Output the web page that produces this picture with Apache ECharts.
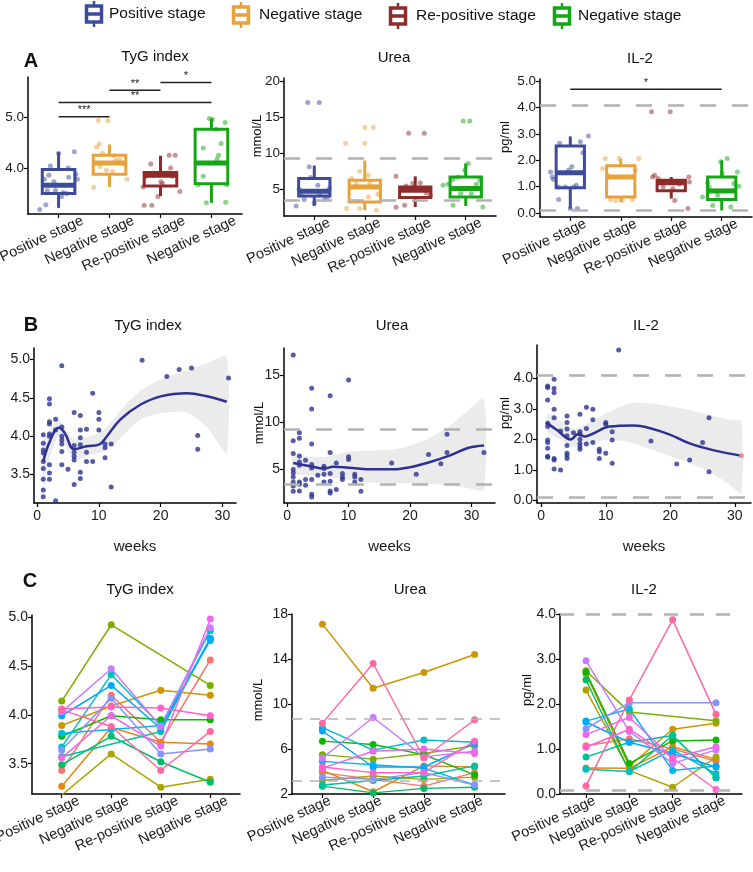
<!DOCTYPE html>
<html>
<head>
<meta charset="utf-8">
<script src="https://cdn.jsdelivr.net/npm/echarts@6/dist/echarts.min.js"></script>
<style>
  html, body { margin: 0; padding: 0; background: #fff; }
  #chart { width: 753px; height: 872px; }
</style>
</head>
<body>
<div id="chart"></div>
<script>
const FONT = '"Liberation Sans", Arial, sans-serif';

// ---- shared ----
const stages = ['Positive stage', 'Negative stage', 'Re-positive stage', 'Negative stage'];
const stageColors = ['#3C4C9B', '#E8A23B', '#8E2B2B', '#16A516'];

// ---- row A: boxplots [min, q1, median, q3, max] ----
const tygBox = [[3.22, 3.50, 3.66, 3.97, 4.31], [3.63, 3.88, 4.10, 4.25, 4.46], [3.45, 3.65, 3.86, 3.91, 4.24], [3.32, 3.69, 4.10, 4.76, 4.97]];
const ureaBox = [[2.67, 4.07, 4.72, 6.50, 8.30], [2.06, 3.22, 5.32, 6.26, 9.00], [2.52, 3.84, 4.86, 5.32, 6.80], [2.67, 3.92, 5.10, 6.72, 8.60]];
const il2Box = [[0.17, 0.96, 1.53, 2.55, 2.91], [0.42, 0.61, 1.37, 1.80, 2.06], [0.55, 0.85, 1.15, 1.25, 1.37], [0.10, 0.51, 0.84, 1.37, 2.00]];

// jittered points: [stage, offset, value]
const tygJitter = [
  [0,-0.37,3.19],[0,-0.25,3.28],[0,-0.28,3.78],[0,-0.19,3.86],[0,-0.16,4.04],[0,-0.09,3.73],[0,-0.06,3.56],[0,0,4.29],[0,0.06,3.44],
  [0,0.09,3.52],[0,0.19,4.0],[0,0.2,3.82],[0,0.31,4.32],[0,0.34,3.88],[0,0.37,3.78],[0,-0.22,3.56],[0,0.16,3.5],
  [1,-0.22,4.93],[1,-0.03,4.93],[1,-0.25,4.41],[1,-0.2,4.47],[1,-0.19,4.03],[1,-0.14,4.29],[1,-0.31,3.62],[1,0.09,4.24],
  [1,0.19,4.16],[1,0.28,4.08],[1,0.34,3.78],[1,-0.06,3.96],[1,0.06,3.93],[1,0.12,4.14],
  [2,-0.34,3.63],[2,-0.32,3.27],[2,-0.17,3.27],[2,-0.19,4.08],[2,-0.14,3.86],[2,-0.05,3.44],[2,0.01,3.73],[2,0.04,3.69],
  [2,0.14,3.9],[2,0.17,4.25],[2,0.2,4.0],[2,0.23,3.84],[2,0.29,4.25],[2,0.38,3.54],[2,-0.28,3.84],
  [3,-0.1,3.32],[3,-0.16,3.84],[3,-0.16,4.39],[3,-0.04,4.97],[3,0.02,4.95],[3,0.09,4.76],[3,0.11,4.17],[3,0.14,4.25],
  [3,0.19,4.48],[3,0.27,4.89],[3,0.3,3.67],[3,0.28,3.33],[3,-0.26,3.67]
];
const ureaJitter = [
  [0,-0.13,17.1],[0,0.1,17.1],[0,-0.36,2.67],[0,-0.3,5.0],[0,-0.2,3.56],[0,-0.1,8.12],[0,-0.07,6.63],[0,0,3.08],
  [0,0.07,5.56],[0,0.1,4.16],[0,0.2,3.56],[0,0.3,5.1],[0,-0.26,4.16],[0,0.26,3.9],
  [1,0,13.6],[1,0.17,13.6],[1,-0.38,11.4],[1,0,11.4],[1,-0.1,7.52],[1,-0.26,6.49],[1,-0.17,5.88],[1,0.07,6.96],
  [1,0.1,5.81],[1,0.2,5.32],[1,-0.36,2.3],[1,-0.1,2.3],[1,0.23,2.06],[1,0.07,3.92],[1,0.26,4.3],
  [2,-0.38,6.82],[2,-0.21,2.76],[2,0.1,5.88],[2,0.15,5.1],[2,0.22,4.48],[2,-0.05,5.8],[2,-0.18,5.46],[2,-0.13,12.8],
  [2,0.18,12.8],[2,-0.38,2.5],[2,0.3,4.2],[2,0.02,5.0],
  [3,-0.05,14.5],[3,0.08,14.5],[3,-0.45,5.56],[3,-0.35,5.7],[3,-0.25,6.35],[3,-0.15,6.72],[3,0.11,4.4],[3,0.21,5.7],
  [3,0.28,6.26],[3,0.34,2.53],[3,-0.25,2.76],[3,-0.02,7.66],[3,0.05,8.6],[3,-0.1,4.4]
];
const il2Jitter = [
  [0,-0.39,1.56],[0,-0.36,1.37],[0,-0.33,1.27],[0,-0.23,0.51],[0,-0.23,0.99],[0,-0.1,0.99],[0,-0.03,1.63],[0,0,0.17],
  [0,0.07,0.99],[0,0.12,1.06],[0,0.14,0.17],[0,0.2,2.71],[0,0.25,2.29],[0,0.36,2.93],[0,-0.21,2.65],[0,0.03,1.76],
  [1,-0.36,1.69],[1,-0.31,2.07],[1,-0.26,1.44],[1,-0.2,0.51],[1,-0.1,0.48],[1,0.03,0.48],[1,0.23,0.51],[1,0.29,1.63],
  [1,0.36,2.07],[1,-0.03,2.07],
  [2,-0.39,3.85],[2,-0.02,3.85],[2,-0.37,1.37],[2,-0.33,1.44],[2,-0.26,1.31],[2,0.03,0.93],[2,0.07,0.48],[2,0.16,1.1],
  [2,0.35,1.37],[2,0.33,0.17],[2,0.36,1.18],[2,-0.16,0.99],
  [3,-0.28,1.15],[3,-0.25,0.99],[3,-0.18,0.29],[3,-0.08,0.68],[3,-0.02,1.95],[3,0.01,1.5],[3,0.11,2.07],[3,0.18,0.23],
  [3,0.24,1.12],[3,0.34,1.02],[3,0.31,1.56],[3,-0.38,0.61]
];

// significance brackets: [from stage, to stage, height, label]
const tygSig = [[1, 2, 5.0, '***'], [1, 4, 5.28, '**'], [2, 3, 5.52, '**'], [3, 4, 5.67, '*']];
const il2Sig = [[1, 4, 4.7, '*']];

// reference ranges
const ureaRef = [3.4, 9.3];
const il2Ref = [0.1, 4.1];
const ureaRefC = [3.2, 8.67];
const il2RefC = [0.08, 4.0];

// ---- row B: values by week ----
const tygWeekPts = [
  [1,4.02],[1,3.91],[1,3.82],[1,3.78],[1,3.67],[1,3.58],[1,3.44],[1,3.30],[1,3.21],
  [2,4.49],[2,4.42],[2,4.19],[2,4.16],[2,4.03],[2,4.0],[2,3.63],[2,3.52],[2,3.44],
  [3,4.22],[3,4.08],[3,3.16],
  [4,4.92],[4,4.12],[4,4.0],[4,3.95],[4,3.90],[4,3.80],[4,3.63],
  [5,3.57],
  [6,4.31],[6,3.88],[6,3.79],[6,3.74],[6,3.69],[6,3.37],
  [7,4.27],[7,4.08],[7,3.98],[7,3.89],[7,3.53],[7,3.45],
  [8,4.09],[8,3.79],[8,3.67],
  [9,4.56],[9,3.67],
  [10,4.31],[10,4.22],[10,4.08],
  [11,3.90],[11,3.85],[11,3.72],
  [12,3.90],[12,3.34],
  [17,4.99],[21,4.78],[23,4.87],[25,4.89],[26,4.01],[26,3.83],[31,4.76]
];
const tygFit = [[1,3.67],[2,3.92],[3.5,4.11],[4.5,4.04],[6,3.83],[8,3.87],[10,3.89],[11.3,4.0],[13.5,4.22],[16.7,4.41],[20,4.52],[24.3,4.56],[27.5,4.52],[30.7,4.45]];
const tygBandWeeks = [1, 2, 3.5, 6, 8, 10, 12, 14, 16.7, 20, 24.3, 27.5, 30.7];
const tygBandLow = [3.39, 3.70, 4.0, 3.69, 3.74, 3.78, 3.86, 4.02, 4.22, 4.30, 4.31, 4.12, 3.78];
const tygBandHigh = [3.95, 4.08, 4.22, 3.95, 3.99, 4.04, 4.18, 4.38, 4.59, 4.74, 4.86, 4.95, 5.04];

const ureaWeekPts = [
  [1,17.1],[1,8.03],[1,6.7],[1,5.0],[1,4.64],[1,4.22],[1,3.69],[1,3.26],[1,2.7],
  [2,8.88],[2,8.3],[2,6.44],[2,5.8],[2,5.46],[2,3.69],[2,3.44],[2,2.73],
  [3,5.99],[3,3.94],[3,3.33],
  [4,13.6],[4,11.4],[4,7.7],[4,5.53],[4,5.17],[4,3.94],[4,2.38],[4,2.1],
  [5,4.4],
  [6,5.35],[6,5.1],[6,4.5],[6,3.69],
  [7,12.8],[7,6.8],[7,4.58],[7,3.76],[7,2.73],[7,2.52],
  [8,5.7],[8,2.88],
  [9,4.58],[9,4.22],[9,3.94],
  [10,14.47],[10,6.34],[10,6.06],
  [11,4.5],[11,4.22],[11,3.69],
  [12,3.94],[12,2.7],
  [17,5.7],[21,4.5],[23,6.6],[25,5.6],[26,8.74],[26,6.8],[32,6.8]
];
const ureaFit = [[1,5.7],[3.8,5.35],[6,5.1],[7.5,5.3],[10,5.2],[14,5.02],[17,5.02],[20,5.25],[23,5.75],[26.5,6.5],[29.5,7.3],[32,7.55]];
const ureaBandWeeks = [1, 4, 7, 10, 14, 18, 22, 26, 29, 32];
const ureaBandLow = [4.6, 4.4, 4.2, 3.9, 3.6, 3.55, 3.5, 3.35, 3.1, 2.85];
const ureaBandHigh = [6.7, 6.3, 6.4, 6.9, 7.0, 7.2, 8.0, 9.4, 11.0, 12.5];

const il2WeekPts = [
  [1,3.75],[1,3.7],[1,3.29],[1,2.53],[1,2.42],[1,1.98],[1,1.9],[1,1.71],[1,1.45],[1,1.42],
  [2,3.97],[2,3.67],[2,3.53],[2,2.99],[2,2.71],[2,1.38],[2,1.33],[2,1.03],
  [3,2.28],[3,1.0],
  [4,2.77],[4,2.55],[4,2.34],[4,2.12],[4,1.8],[4,1.55],[4,1.47],[4,1.38],
  [5,2.22],
  [6,2.82],[6,2.25],[6,2.18],[6,2.01],[6,1.87],[6,1.77],[6,1.68],
  [7,3.05],[7,2.36],[7,1.85],
  [8,2.99],[8,2.64],[8,1.9],
  [9,1.68],[9,1.6],[9,1.38],
  [10,2.55],[10,2.5],[10,1.55],
  [11,2.25],[11,1.98],[11,1.22],
  [12,4.93],[17,1.95],[21,1.2],[23,1.33],[25,1.9],[26,2.71],[26,0.94]
];
const il2LastPt = [[31, 1.47]];
const il2Fit = [[0.8,2.55],[2.5,2.3],[4.6,2.0],[5.7,2.17],[6.8,2.1],[7.8,2.17],[10.6,2.42],[14.2,2.46],[19.4,2.2],[23,1.87],[26.6,1.65],[30.9,1.47]];
const il2BandWeeks = [1, 3, 5, 7, 10, 14, 18, 22, 26, 29, 31];
const il2BandLow = [2.25, 2.0, 1.75, 1.85, 2.0, 1.9, 1.6, 1.3, 0.95, 0.55, 0.25];
const il2BandHigh = [2.85, 2.6, 2.35, 2.5, 2.85, 3.2, 3.15, 3.0, 2.8, 2.65, 2.6];

// ---- row C: per-patient values at each stage (null = missing) ----
const patientColors = ['#F8766D','#E68613','#CD9600','#ABA300','#7CAE00','#0CB702','#00BE67','#00C19A',
                       '#00BFC4','#00B8E7','#00A9FF','#8494FF','#C77CFF','#ED68ED','#FF61CC','#FF68A1'];
const tygPatients = [
  [3.43, 4.20, 3.72, 4.56], [3.27, 3.87, 3.72, 3.70], [3.89, 4.09, 4.25, 4.20], [3.18, 3.60, 3.26, 3.34],
  [4.14, 4.92, null, 4.30], [3.78, 3.99, 3.95, 3.95], [3.49, 3.78, 3.52, 3.31], [3.57, null, 3.83, 4.78],
  [3.67, 4.41, 3.89, 4.86], [3.81, 3.85, 3.89, 4.76], [3.99, 4.30, 3.86, 4.78], [3.64, 4.17, 3.60, 3.65],
  [4.03, 4.47, 3.88, 4.89], [3.56, 3.99, 3.68, 4.98], [4.06, 4.08, 4.07, 3.99], [4.05, 3.88, 3.43, 3.83]
];
const ureaPatients = [
  [3.9, 3.3, 2.7, 3.9], [4.1, 2.2, 4.5, 4.4], [17.1, 11.4, 12.8, 14.4], [3.2, 3.6, 3.3, 3.5],
  [5.5, 5.1, 5.6, 6.3], [6.7, 6.4, 5.5, 3.7], [2.7, 2.1, 2.5, 2.6], [2.8, 3.2, 3.6, 4.5],
  [7.9, 5.9, 6.8, 6.6], [4.9, 4.6, 4.3, 2.8], [7.6, 4.4, 4.4, 6.5], [3.5, 3.3, 3.9, 2.8],
  [5.2, 8.8, 5.3, 5.8], [4.3, 5.8, 6.0, 5.6], [4.4, 3.9, 3.9, 6.7], [8.3, 13.6, 5.2, 8.6]
];
const il2Patients = [
  [1.07, 1.23, 1.0, 0.73], [0.58, 0.57, 1.05, 0.77], [2.67, 0.62, 1.44, 1.57], [2.31, 0.52, 0.15, 0.82],
  [2.74, 1.82, null, 1.63], [2.71, 0.68, 1.18, 1.2], [2.54, 0.5, 1.3, 0.36], [0.82, 1.15, 1.3, 0.36],
  [0.55, 0.5, 0.98, 0.45], [1.62, 1.89, 0.52, 0.62], [1.6, 1.15, 0.9, 0.6], [1.45, 2.03, null, 2.03],
  [2.96, 1.39, 0.68, 0.98], [1.32, 1.70, 0.8, 1.05], [1.04, 1.44, 0.8, 0.1], [0.18, 2.09, 3.87, 1.77]
];

// ---------------- helpers ----------------
const axisLine = { show: true, onZero: false, lineStyle: { color: '#000', width: 1.5 } };

function grid(left, top, width, height) {
  return { left, top, width, height, containLabel: false, outerBoundsMode: 'none' };
}

// shift: rotated stage labels sit a little right of their tick
function stageAxis(gi, shift) {
  return {
    type: 'value', gridIndex: gi, min: 0.4, max: 4.6,
    axisLine: axisLine,
    axisTick: { show: true, length: 4, customValues: [1, 2, 3, 4], lineStyle: { color: '#000', width: 1.2 } },
    axisLabel: {
      customValues: [1, 2, 3, 4].map(v => v + shift), rotate: 25, margin: 6, fontSize: 14.5,
      color: '#1a1a1a', fontFamily: FONT, showMaxLabel: true, showMinLabel: true,
      formatter: v => stages[Math.floor(v) - 1]
    },
    splitLine: { show: false }
  };
}

function weekAxis(gi, min, max) {
  return {
    type: 'value', gridIndex: gi, min, max,
    name: 'weeks', nameLocation: 'middle', nameGap: 36,
    nameTextStyle: { fontSize: 15, color: '#1a1a1a', fontFamily: FONT },
    axisLine: axisLine,
    axisTick: { show: true, length: 4, customValues: [0, 10, 20, 30], lineStyle: { color: '#000', width: 1.2 } },
    axisLabel: { customValues: [0, 10, 20, 30], margin: 6, fontSize: 14, color: '#1a1a1a', fontFamily: FONT },
    splitLine: { show: false }
  };
}

function valueAxis(gi, min, max, ticks, digits, size) {
  return {
    type: 'value', gridIndex: gi, min, max,
    axisLine: axisLine,
    axisTick: { show: true, length: 4, customValues: ticks, lineStyle: { color: '#000', width: 1.2 } },
    axisLabel: { customValues: ticks, margin: 4, fontSize: size, color: '#1a1a1a', fontFamily: FONT,
                 formatter: v => v.toFixed(digits) },
    splitLine: { show: false }
  };
}

function refLines(values, width, dash) {
  return {
    silent: true, symbol: 'none', animation: false,
    label: { show: false },
    lineStyle: { type: dash, color: '#B3B3B3', width: width },
    data: values.map(v => ({ yAxis: v }))
  };
}

function boxSeries(ai, boxes, frac) {
  return {
    type: 'custom', xAxisIndex: ai, yAxisIndex: ai, z: 2,
    data: boxes.map((b, i) => [i + 1].concat(b)),
    encode: { x: 0, y: [1, 2, 3, 4, 5] },
    renderItem: (params, api) => {
      const x = api.value(0);
      const p = [1, 2, 3, 4, 5].map(d => api.coord([x, api.value(d)]));
      const w = api.size([1, 0])[0] * frac;
      const c = stageColors[params.dataIndex];
      const cx = p[0][0];
      return {
        type: 'group', children: [
          { type: 'line', shape: { x1: cx, y1: p[0][1], x2: cx, y2: p[1][1] }, style: { stroke: c, lineWidth: 3 } },
          { type: 'line', shape: { x1: cx, y1: p[3][1], x2: cx, y2: p[4][1] }, style: { stroke: c, lineWidth: 3 } },
          { type: 'rect', shape: { x: cx - w / 2, y: p[3][1], width: w, height: p[1][1] - p[3][1] },
            style: { fill: '#fff', stroke: c, lineWidth: 3 } },
          { type: 'line', shape: { x1: cx - w / 2, y1: p[2][1], x2: cx + w / 2, y2: p[2][1] },
            style: { stroke: c, lineWidth: 5 } }
        ]
      };
    }
  };
}

function jitterSeries(ai, pts, refs) {
  const s = {
    type: 'scatter', xAxisIndex: ai, yAxisIndex: ai, z: 3, symbolSize: 5,
    data: pts.map(p => ({ value: [p[0] + 1 + p[1], p[2]], itemStyle: { color: stageColors[p[0]], opacity: 0.5 } }))
  };
  if (refs) s.markLine = refLines(refs, 2.5, [16, 16]);
  return s;
}

function sigSeries(ai, sig) {
  return {
    type: 'custom', xAxisIndex: ai, yAxisIndex: ai, z: 4,
    data: sig.map(s => [s[0], s[1], s[2]]),
    encode: { x: [0, 1], y: 2 },
    renderItem: (params, api) => {
      const a = api.coord([api.value(0), api.value(2)]);
      const b = api.coord([api.value(1), api.value(2)]);
      return {
        type: 'group', children: [
          { type: 'line', shape: { x1: a[0], y1: a[1], x2: b[0], y2: b[1] }, style: { stroke: '#222', lineWidth: 1.5 } },
          { type: 'text', x: (a[0] + b[0]) / 2, y: a[1] - 1,
            style: { text: sig[params.dataIndex][3], fill: '#222', font: '11px ' + FONT,
                     align: 'center', textAlign: 'center', verticalAlign: 'bottom', textVerticalAlign: 'bottom' } }
        ]
      };
    }
  };
}

function bandSeries(ai, weeks, low, high) {
  return {
    type: 'custom', xAxisIndex: ai, yAxisIndex: ai, z: 1, silent: true,
    data: weeks.map((w, i) => [w, low[i], high[i]]),
    encode: { x: 0, y: [1, 2] },
    renderItem: (params, api) => {
      if (params.dataIndex !== 0) return null;
      const top = weeks.map((w, i) => api.coord([w, high[i]]));
      const bot = weeks.map((w, i) => api.coord([w, low[i]])).reverse();
      return { type: 'polygon', shape: { points: top.concat(bot), smooth: 0.2 }, style: { fill: '#EBEBEB' } };
    }
  };
}

function weekScatter(ai, pts, refs) {
  const s = { type: 'scatter', xAxisIndex: ai, yAxisIndex: ai, z: 3, symbolSize: 5,
              itemStyle: { color: '#2C3590' }, data: pts };
  if (refs) s.markLine = refLines(refs, 2.5, [16, 16]);
  return s;
}

function fitSeries(ai, fit) {
  return { type: 'line', xAxisIndex: ai, yAxisIndex: ai, z: 5, smooth: 0.4, symbol: 'none',
           lineStyle: { color: '#2E3192', width: 2.5 }, data: fit };
}

function patientSeries(ai, patients, refs, refWidth, refDash) {
  return patients.map((row, k) => {
    const s = {
      type: 'line', xAxisIndex: ai, yAxisIndex: ai, z: 3, connectNulls: true,
      symbol: 'circle', symbolSize: 7,
      lineStyle: { color: patientColors[k], width: 1.5 },
      itemStyle: { color: patientColors[k] },
      data: row.map((v, j) => [j + 1, v == null ? '-' : v])
    };
    if (k === 0 && refs) s.markLine = refLines(refs, refWidth, refDash);
    return s;
  });
}

// ---------------- text decorations ----------------
const graphic = [];
function addText(text, x, y, font, rotation) {
  graphic.push({ type: 'text', x, y, rotation: rotation || 0,
    style: { text, font, fill: '#111', align: 'center', textAlign: 'center', verticalAlign: 'middle', textVerticalAlign: 'middle' } });
}
[['TyG index', 155, 57], ['Urea', 394, 58], ['IL-2', 640, 59],
 ['TyG index', 148, 326], ['Urea', 392, 326], ['IL-2', 646, 326],
 ['TyG index', 140, 590], ['Urea', 410, 590], ['IL-2', 644, 590]]
  .forEach(t => addText(t[0], t[1], t[2], '15px ' + FONT));
[['A', 31, 61], ['B', 31, 325], ['C', 30, 581]]
  .forEach(t => addText(t[0], t[1], t[2], 'bold 20px ' + FONT));
[['mmol/L', 257, 136], ['pg/ml', 505, 137], ['mmol/L', 259, 423], ['pg/ml', 505, 413], ['mmol/L', 258, 700], ['pg/ml', 527, 690]]
  .forEach(t => addText(t[0], t[1], t[2], '13px ' + FONT, Math.PI / 2));

// legend
[[94, 14, 109], [241, 15, 259], [398, 16, 416], [562, 16, 578]].forEach((pos, i) => {
  const [ix, iy, tx] = pos;
  const c = stageColors[i];
  graphic.push({ type: 'line', shape: { x1: ix, y1: iy - 13, x2: ix, y2: iy + 13 }, style: { stroke: c, lineWidth: 2.5 } });
  graphic.push({ type: 'rect', shape: { x: ix - 7.5, y: iy - 8, width: 15, height: 16 }, style: { fill: '#fff', stroke: c, lineWidth: 3.5 } });
  graphic.push({ type: 'line', shape: { x1: ix - 7.5, y1: iy, x2: ix + 7.5, y2: iy }, style: { stroke: c, lineWidth: 3.5 } });
  graphic.push({ type: 'text', x: tx, y: iy,
    style: { text: stages[i], font: '15.5px ' + FONT, fill: '#111', align: 'left', textAlign: 'left', verticalAlign: 'middle', textVerticalAlign: 'middle' } });
});

// ---------------- chart ----------------
const chart = echarts.init(document.getElementById('chart'), null, { renderer: 'canvas' });

const series = [
  boxSeries(0, tygBox, 0.64), jitterSeries(0, tygJitter), sigSeries(0, tygSig),
  boxSeries(1, ureaBox, 0.62), jitterSeries(1, ureaJitter, ureaRef),
  boxSeries(2, il2Box, 0.56), jitterSeries(2, il2Jitter, il2Ref), sigSeries(2, il2Sig),
  bandSeries(3, tygBandWeeks, tygBandLow, tygBandHigh), weekScatter(3, tygWeekPts), fitSeries(3, tygFit),
  bandSeries(4, ureaBandWeeks, ureaBandLow, ureaBandHigh), weekScatter(4, ureaWeekPts, ureaRef), fitSeries(4, ureaFit),
  bandSeries(5, il2BandWeeks, il2BandLow, il2BandHigh), weekScatter(5, il2WeekPts, il2Ref), fitSeries(5, il2Fit),
  { type: 'scatter', xAxisIndex: 5, yAxisIndex: 5, z: 6, symbolSize: 5, itemStyle: { color: '#F8766D' }, data: il2LastPt }
].concat(
  patientSeries(6, tygPatients),
  patientSeries(7, ureaPatients, ureaRefC, 1.5, [10, 8]),
  patientSeries(8, il2Patients, il2RefC, 2.5, [14, 12])
);

chart.setOption({
  animation: false,
  backgroundColor: '#fff',
  textStyle: { fontFamily: FONT },
  grid: [
    grid(28, 77, 214, 137), grid(284, 78, 212, 138), grid(540, 79, 212, 138),
    grid(34, 348, 202, 155), grid(284, 348, 211, 155), grid(537, 345, 214, 158),
    grid(32, 615, 208, 179), grid(292, 614, 213, 180), grid(560, 614, 182, 180)
  ],
  xAxis: [
    stageAxis(0, 0.47), stageAxis(1, 0.3), stageAxis(2, 0.3),
    weekAxis(3, -0.5, 32.2), weekAxis(4, -0.5, 33.8), weekAxis(5, -0.65, 32.5),
    stageAxis(6, 0.34), stageAxis(7, 0.15), stageAxis(8, 0.2)
  ],
  yAxis: [
    valueAxis(0, 3.1, 5.78, [4, 5], 1, 13.5),
    valueAxis(1, 1.27, 20.5, [5, 10, 15, 20], 0, 13.5),
    valueAxis(2, -0.15, 5.09, [0, 1, 2, 3, 4, 5], 1, 13.5),
    valueAxis(3, 3.13, 5.15, [3.5, 4, 4.5, 5], 1, 14),
    valueAxis(4, 1.46, 17.85, [5, 10, 15], 0, 14),
    valueAxis(5, -0.08, 5.09, [0, 1, 2, 3, 4], 1, 14),
    valueAxis(6, 3.19, 5.02, [3.5, 4, 4.5, 5], 1, 14),
    valueAxis(7, 2, 18, [2, 6, 10, 14, 18], 0, 14),
    valueAxis(8, 0, 4, [0, 1, 2, 3, 4], 1, 14)
  ],
  graphic: graphic,
  series: series
});
</script>
</body>
</html>
